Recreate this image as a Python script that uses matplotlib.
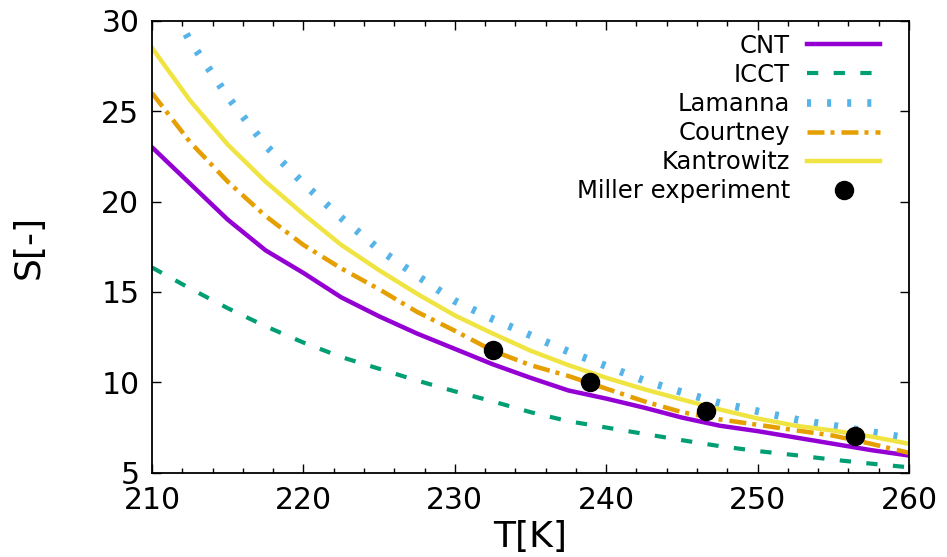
import numpy as np
import matplotlib
matplotlib.use('Agg')
import matplotlib.pyplot as plt

# temperature grid [K]
T = [210, 212.5, 215, 217.5, 220, 222.5, 225, 227.5, 230, 232.5, 235,
     237.5, 240, 242.5, 245, 247.5, 250, 252.5, 255, 257.5, 260]

# supersaturation S[-]
S_cnt = [23.0, 21.0, 19.0, 17.3, 16.05, 14.7, 13.65, 12.7, 11.85, 11.0, 10.25,
         9.55, 9.1, 8.6, 8.05, 7.6, 7.3, 6.95, 6.6, 6.25, 5.95]
S_icct = [16.35, 15.2, 14.1, 13.1, 12.2, 11.4, 10.75, 10.1, 9.5, 8.95, 8.35,
          7.85, 7.5, 7.15, 6.8, 6.47, 6.2, 5.97, 5.72, 5.5, 5.3]
S_lamanna = [32.6, 28.9, 25.8, 23.1, 21.0, 19.1, 17.35, 15.9, 14.5, 13.5, 12.6,
             11.7, 10.9, 10.1, 9.45, 8.85, 8.4, 7.95, 7.6, 7.25, 6.9]
S_courtney = [26.0, 23.3, 21.1, 19.2, 17.6, 16.3, 15.15, 13.9, 12.85, 11.75, 10.95,
              10.35, 9.65, 8.95, 8.35, 7.95, 7.65, 7.35, 7.05, 6.6, 6.1]
S_kantrowitz = [28.5, 25.6, 23.15, 21.1, 19.3, 17.6, 16.2, 14.9, 13.7, 12.7, 11.75,
                10.95, 10.25, 9.62, 9.05, 8.5, 8.0, 7.6, 7.33, 7.0, 6.6]

# Miller experiment
T_miller = [232.5, 238.9, 246.6, 256.4]
S_miller = [11.8, 10.03, 8.41, 7.03]

plt.rcParams['font.family'] = 'DejaVu Sans'

fig = plt.figure(figsize=(9.47, 5.57), dpi=100)
ax = fig.add_axes([0.1605, 0.1513, 0.7994, 0.8115])

ax.plot(T, S_cnt, color='#9400d3', lw=3.2, label='CNT')
ax.plot(T, S_icct, color='#009e73', lw=3.0, ls=(0, (2.7, 3.7)), label='ICCT')
ax.plot(T, S_lamanna, color='#56b4e9', lw=5.5, ls=(0, (0.53, 2.1)), label='Lamanna')
ax.plot(T, S_courtney, color='#e69f00', lw=3.25, ls=(0, (3.76, 1.33, 0.89, 1.55)), label='Courtney')
ax.plot(T, S_kantrowitz, color='#f0e442', lw=3.2, label='Kantrowitz')
ax.plot(T_miller, S_miller, 'o', color='black', ms=13, label='Miller experiment', zorder=5)

ax.set_xlim(210, 260)
ax.set_ylim(5, 30)
ax.set_xticks(np.arange(210, 261, 10))
ax.set_xticks(np.arange(210, 261, 2), minor=True)
ax.set_yticks(np.arange(5, 31, 5))

ax.tick_params(which='both', direction='in', top=True, right=True, width=1.0, labelsize=21.5)
ax.tick_params(which='major', length=6.5)
ax.tick_params(which='minor', length=3.3)
ax.tick_params(axis='x', pad=9.5)
ax.tick_params(axis='y', pad=9)
for sp in ax.spines.values():
    sp.set_linewidth(1.3)

ax.set_xlabel('T[K]', fontsize=26, labelpad=4)
ax.set_ylabel('S[-]', fontsize=26, labelpad=40)

leg = ax.legend(loc='upper right', bbox_to_anchor=(0.9617, 0.971), frameon=False,
                markerfirst=False, fontsize=17.5, handlelength=3.0, handletextpad=0.7,
                labelspacing=0.21, borderpad=0, borderaxespad=0)

plt.savefig('out.png', dpi=100)
